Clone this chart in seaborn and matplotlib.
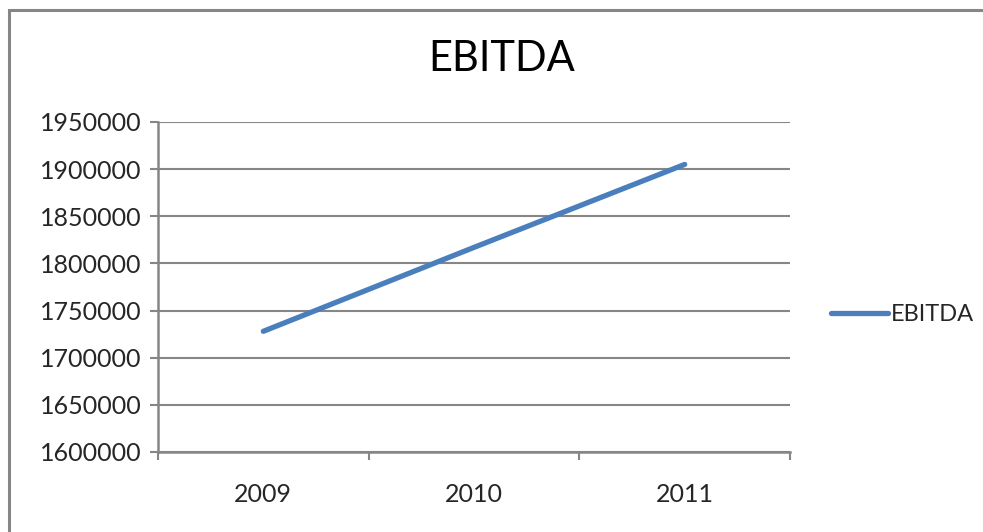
import matplotlib
matplotlib.use("Agg")
import matplotlib.pyplot as plt
import seaborn as sns
import pandas as pd
from matplotlib.patches import Rectangle

years = ["2009", "2010", "2011"]
ebitda = [1728000, 1817000, 1905000]
y_ticks = [1600000, 1650000, 1700000, 1750000, 1800000, 1850000, 1900000, 1950000]

sns.set_style("white")
plt.rcParams["font.family"] = ["Lato", "DejaVu Sans"]

df = pd.DataFrame({"year": range(len(years)), "EBITDA": ebitda})

fig = plt.figure(figsize=(9.83, 5.32), dpi=100)
ax = fig.add_axes([0.1607, 0.1504, 0.643, 0.6203])

grid_col = "#868686"
line_col = "#4A7EBD"

# outer chart frame (extends past the right and bottom edges)
fig.patches.append(Rectangle((9 / 983, -0.2), 1.2, 1 - 10 / 532 + 0.2,
                             transform=fig.transFigure, fill=False,
                             edgecolor=grid_col, linewidth=2.2, zorder=0))

sns.lineplot(data=df, x="year", y="EBITDA", ax=ax, color=line_col,
             linewidth=3.8, solid_capstyle="round", label="EBITDA")

ax.set_xlim(-0.5, 2.5)
ax.set_ylim(y_ticks[0], y_ticks[-1])
ax.set_yticks(y_ticks)
ax.set_yticklabels([str(v) for v in y_ticks])
ax.set_xticks([0, 1, 2])
ax.set_xticklabels(years)
ax.set_xticks([-0.5, 0.5, 1.5, 2.5], minor=True)
ax.tick_params(axis="x", which="major", length=0, pad=22, labelsize=18)
ax.tick_params(axis="x", which="minor", length=6, width=1.5, color=grid_col,
               direction="out", bottom=True)
ax.tick_params(axis="y", length=6, width=1.5, color=grid_col, direction="out",
               left=True, pad=6, labelsize=18)
ax.yaxis.grid(True, color=grid_col, linewidth=1.5)
ax.xaxis.grid(False)
ax.set_axisbelow(True)
for s in ["top", "right"]:
    ax.spines[s].set_visible(False)
for s in ["left", "bottom"]:
    ax.spines[s].set_color(grid_col)
    ax.spines[s].set_linewidth(1.8)
ax.set_xlabel("")
ax.set_ylabel("")

fig.text(502 / 983, 1 - 59 / 532, "EBITDA", ha="center", va="center",
         fontsize=30, color="black")

ax.legend(loc="center left", bbox_to_anchor=(822 / 983, 1 - 315 / 532),
          bbox_transform=fig.transFigure, frameon=False, fontsize=17,
          handlelength=2.4, handletextpad=0.1, borderaxespad=0)

fig.savefig("out.png", dpi=100)
